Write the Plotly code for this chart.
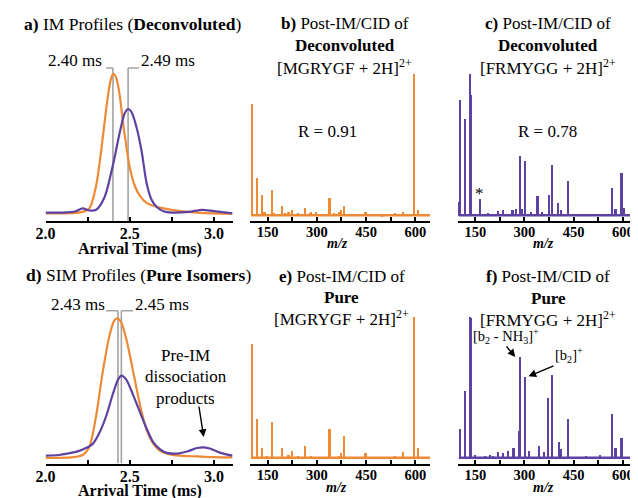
import plotly.graph_objects as go

W, H = 638, 498
OFF = 8  # page body margin offset
FW, FH = W - OFF, H - OFF
ORANGE = "#EE8A36"
PURPLE = "#5E42A2"
GREY = "#A3A3A3"
FONT = "Liberation Serif"

# ---------------- data ----------------
# a) IM profiles (deconvoluted)
a_time = [2.00, 2.10, 2.18, 2.22, 2.26, 2.30, 2.33, 2.36, 2.38, 2.39, 2.40, 2.41, 2.42, 2.44, 2.46, 2.48, 2.50,
          2.53, 2.56, 2.60, 2.65, 2.70, 2.80, 2.90, 3.00, 3.11]
a_orange = [0.5, 0.5, 0.8, 1.5, 4, 20, 45, 75, 92, 97, 100, 99.5, 97, 85, 65, 48, 33,
            20, 13, 8, 5.5, 4, 2, 1, 0.5, 0.3]
a_time_p = [2.00, 2.10, 2.18, 2.22, 2.26, 2.30, 2.35, 2.40, 2.44, 2.47, 2.49, 2.51, 2.54, 2.57,
            2.60, 2.63, 2.66, 2.70, 2.75, 2.85, 2.93, 3.00, 3.11]
a_purple = [1, 1, 2, 4, 2.5, 3, 12, 35, 58, 72, 75, 73, 62, 45,
            22, 10, 5, 2, 1, 1.5, 3, 2, 0.5]
a_peaks = [2.40, 2.49]
a_peak_labels = ["2.40 ms", "2.49 ms"]
a_bracket_ends = [2.36, 2.555]

# d) SIM profiles (pure isomers)
d_time = [2.00, 2.15, 2.22, 2.26, 2.30, 2.34, 2.38, 2.41, 2.43, 2.45, 2.48, 2.51, 2.54, 2.57,
          2.60, 2.64, 2.68, 2.72, 2.80, 2.90, 3.00, 3.11]
d_orange = [0, 0.3, 2, 8, 30, 62, 88, 99, 100, 97, 85, 68, 50, 33,
            20, 10, 5, 3, 1.5, 1, 0.5, 0.3]
d_time_p = [2.00, 2.08, 2.15, 2.20, 2.24, 2.28, 2.32, 2.36, 2.40, 2.43, 2.45, 2.48, 2.52, 2.56,
            2.60, 2.64, 2.68, 2.72, 2.78, 2.84, 2.90, 2.94, 2.98, 3.04, 3.11]
d_purple = [1.5, 2, 3.5, 5, 7, 10, 18, 30, 46, 56, 59, 56, 45, 33,
            21, 11, 6, 3.5, 3, 4.5, 7, 7.5, 6.5, 3.5, 1.5]
d_peaks = [2.43, 2.45]
d_peak_labels = ["2.43 ms", "2.45 ms"]
d_bracket_ends = [2.36, 2.52]

# b) deconvoluted MGRYGF
b_mz = [103, 120, 135, 142, 165, 172, 195, 205, 215, 225, 245, 265, 280, 285, 300, 318,
        340, 355, 368, 375, 383, 420, 450, 500, 540, 565, 598, 610]
b_int = [79, 27, 15, 3, 18, 2, 7, 2, 3, 4, 2, 6, 2, 3, 3, 1.5,
         13, 2, 3, 4, 7, 1.5, 3, 1, 2, 3, 100, 4]

# c) deconvoluted FRMYGG
c_mz = [98, 104, 120, 135, 138, 165, 190, 220, 235, 264, 274, 287, 294, 303, 319, 340, 353,
        376, 383, 403, 413, 432, 487, 531, 566, 578, 596, 605, 625]
c_int = [10, 82, 68, 100, 85, 12, 2, 3.5, 4, 4, 5, 42, 5, 39, 3, 14, 3,
         15, 36, 9, 4, 25, 1.5, 1.5, 20, 5, 30, 6, 2]

# e) pure MGRYGF
e_mz = [103, 120, 135, 150, 165, 172, 195, 215, 225, 245, 265, 285, 300, 340, 355, 368,
        375, 383, 450, 480, 540, 565, 598, 610]
e_int = [81, 28, 8, 2, 26, 1.5, 8, 2.5, 6, 2, 9, 2, 1.5, 21, 1.5, 2,
         4, 16, 4, 1.5, 2, 5, 100, 8]

# f) pure FRMYGG
f_mz = [104, 120, 135, 138, 150, 180, 195, 205, 220, 235, 250, 267, 284, 287, 303, 314,
        345, 360, 373, 383, 405, 413, 432, 487, 531, 566, 578, 596, 625]
f_int = [21, 48, 100, 99, 2.5, 2, 2.5, 2, 5, 4, 6, 8, 20, 72, 58, 6,
         9, 5, 43, 59, 12, 7, 28, 2, 3, 32, 8, 15, 3]

spec_baseline_mz = [100, 645]
spec_baseline_level = [0.6, 0.6]

time_ticks = [2.0, 2.25, 2.5, 2.75, 3.0]
time_ticktext = ["2.0", "", "2.5", "", "3.0"]
mz_ticks = [150, 225, 300, 375, 450, 525, 600]
mz_ticktext = ["150", "", "300", "", "450", "", "600"]

# ---------------- layout helpers ----------------
def px_x(px):
    return (px - OFF) / FW

def px_y(py):
    return 1 - (py - OFF) / FH

fig = go.Figure()

def add_curve(t, v, color, ax):
    fig.add_trace(go.Scatter(x=t, y=v, mode="lines", line=dict(color=color, width=2.2, shape="spline", smoothing=0.8),
                             xaxis="x" + ax, yaxis="y" + ax, hoverinfo="skip"))

def add_markers(peaks, ends, top, bottom, ax):
    for t, e in zip(peaks, ends):
        fig.add_trace(go.Scatter(x=[t, t], y=[bottom, top], mode="lines", line=dict(color=GREY, width=1.6),
                                 xaxis="x" + ax, yaxis="y" + ax, hoverinfo="skip"))
        fig.add_trace(go.Scatter(x=[e, t], y=[top, top], mode="lines", line=dict(color=GREY, width=1.6),
                                 xaxis="x" + ax, yaxis="y" + ax, hoverinfo="skip"))

def add_spectrum(mz, inten, color, ax):
    fig.add_trace(go.Scatter(x=spec_baseline_mz, y=spec_baseline_level, mode="lines",
                             line=dict(color=color, width=2.5), xaxis="x" + ax, yaxis="y" + ax, hoverinfo="skip"))
    fig.add_trace(go.Bar(x=mz, y=inten, width=5, marker=dict(color=color, line=dict(width=0)),
                         xaxis="x" + ax, yaxis="y" + ax, hoverinfo="skip"))

A_YR = [-5, 110]
D_YR = [-4.1, 113.3]
S_YR = [-3.5, 102.1]

add_markers(a_peaks, a_bracket_ends, 104.3, A_YR[0], "")
add_curve(a_time, a_orange, ORANGE, "")
add_curve(a_time_p, a_purple, PURPLE, "")

add_markers(d_peaks, d_bracket_ends, 105.6, D_YR[0], "4")
add_curve(d_time, d_orange, ORANGE, "4")
add_curve(d_time_p, d_purple, PURPLE, "4")

add_spectrum(b_mz, b_int, ORANGE, "2")
add_spectrum(c_mz, c_int, PURPLE, "3")
add_spectrum(e_mz, e_int, ORANGE, "5")
add_spectrum(f_mz, f_int, PURPLE, "6")

def xaxis_cfg(x0, x1, rng, tv, tt, anchor, size):
    return dict(domain=[px_x(x0), min(1.0, px_x(x1))], range=rng, anchor=anchor, showline=True, linecolor="black",
                linewidth=2, ticks="inside", ticklen=4, tickwidth=1.5, tickcolor="black",
                tickvals=tv, ticktext=tt, showgrid=False, zeroline=False, ticklabelstandoff=-3,
                tickfont=dict(family=FONT, size=size, color="black", weight="bold"))

def yaxis_cfg(top, bottom, rng, anchor):
    return dict(domain=[px_y(bottom), px_y(top)], range=rng, anchor=anchor, visible=False,
                showgrid=False, zeroline=False)

MZ_R = [97, 646]
TOP_AX, BOT_AX = 221, 463.5
layout = dict(
    width=FW, height=FH, margin=dict(l=0, r=0, t=0, b=0), showlegend=False,
    paper_bgcolor="white", plot_bgcolor="rgba(0,0,0,0)", bargap=0,
    xaxis=xaxis_cfg(36, 226, [2.0, 3.11], time_ticks, time_ticktext, "y", 16),
    yaxis=yaxis_cfg(TOP_AX - 161, TOP_AX, A_YR, "x"),
    xaxis2=xaxis_cfg(244, 427, MZ_R, mz_ticks, mz_ticktext, "y2", 14.5),
    yaxis2=yaxis_cfg(TOP_AX - 150, TOP_AX, S_YR, "x2"),
    xaxis3=xaxis_cfg(455, 638, MZ_R, mz_ticks, mz_ticktext, "y3", 14.5),
    yaxis3=yaxis_cfg(TOP_AX - 150, TOP_AX, S_YR, "x3"),
    xaxis4=xaxis_cfg(36, 226, [2.0, 3.11], time_ticks, time_ticktext, "y4", 16),
    yaxis4=yaxis_cfg(BOT_AX - 163.5, BOT_AX, D_YR, "x4"),
    xaxis5=xaxis_cfg(244, 427, MZ_R, mz_ticks, mz_ticktext, "y5", 14.5),
    yaxis5=yaxis_cfg(BOT_AX - 150, BOT_AX, S_YR, "x5"),
    xaxis6=xaxis_cfg(455, 638, MZ_R, mz_ticks, mz_ticktext, "y6", 14.5),
    yaxis6=yaxis_cfg(BOT_AX - 150, BOT_AX, S_YR, "x6"),
)
fig.update_layout(**layout)

anns = []

def text(px, py, s, size=17, xanchor="center", bold=False, italic=False):
    f = dict(family=FONT, size=size, color="black")
    if bold:
        f["weight"] = "bold"
    if italic:
        f["style"] = "italic"
    anns.append(dict(x=px_x(px), y=px_y(py), xref="paper", yref="paper", text=s, showarrow=False,
                     xanchor=xanchor, yanchor="middle", font=f))

def arrow(hx, hy, tx, ty):
    anns.append(dict(x=px_x(hx), y=px_y(hy), xref="paper", yref="paper", text="", showarrow=True,
                     ax=tx - hx, ay=ty - hy, axref="pixel", ayref="pixel", arrowhead=2, arrowsize=1.1,
                     arrowwidth=1.4, arrowcolor="black"))

# titles
text(12, 24, "<b>a)</b> IM Profiles (<b>Deconvoluted</b>)", size=17.5, xanchor="left")
text(14, 275, "<b>d)</b> SIM Profiles (<b>Pure Isomers</b>)", size=17.5, xanchor="left")
for cx, lines, ys in [
    (340, ["<b>b)</b> Post-IM/CID of", "<b>Deconvoluted</b>", "[MGRYGF + 2H]<sup>2+</sup>"], [23, 45, 67]),
    (547, ["<b>c)</b> Post-IM/CID of", "<b>Deconvoluted</b>", "[FRMYGG + 2H]<sup>2+</sup>"], [23, 45, 67]),
    (337, ["<b>e)</b> Post-IM/CID of", "<b>Pure</b>", "[MGRYGF + 2H]<sup>2+</sup>"], [276, 297, 318]),
    (547, ["<b>f)</b> Post-IM/CID of", "<b>Pure</b>", "[FRMYGG + 2H]<sup>2+</sup>"], [276, 298, 319]),
]:
    for s, y in zip(lines, ys):
        text(cx, y, s)

# peak labels
text(65.5, 61, a_peak_labels[0])
text(160, 61, a_peak_labels[1])
text(69, 304, d_peak_labels[0])
text(154.5, 304, d_peak_labels[1])

# R values
text(322, 131, "R = 0.91")
text(546, 131, "R = 0.78")
text(477, 193, "*", size=17)

# pre-IM text + arrow
text(178, 355, "Pre-IM")
text(179, 376, "dissociation")
text(178, 398, "products")
arrow(196.7, 437, 191.7, 405)

# f annotations
text(504, 336, "[b<sub>2</sub> - NH<sub>3</sub>]<sup>+</sup>", size=14.5)
arrow(513.3, 357, 503.3, 345)
text(568, 355, "[b<sub>2</sub>]<sup>+</sup>", size=14.5)
arrow(526.7, 376.3, 553.3, 365.3)

# axis titles
text(131.7, 248.5, "Arrival Time (ms)", size=16, bold=True)
text(131.7, 490.5, "Arrival Time (ms)", size=16, bold=True)
text(333, 243, "m/z", size=14, bold=True, italic=True)
text(542, 243, "m/z", size=14, bold=True, italic=True)
text(332, 487, "m/z", size=14, bold=True, italic=True)
text(542, 487, "m/z", size=14, bold=True, italic=True)

fig.update_layout(annotations=anns)
fig.write_html("out.html")
